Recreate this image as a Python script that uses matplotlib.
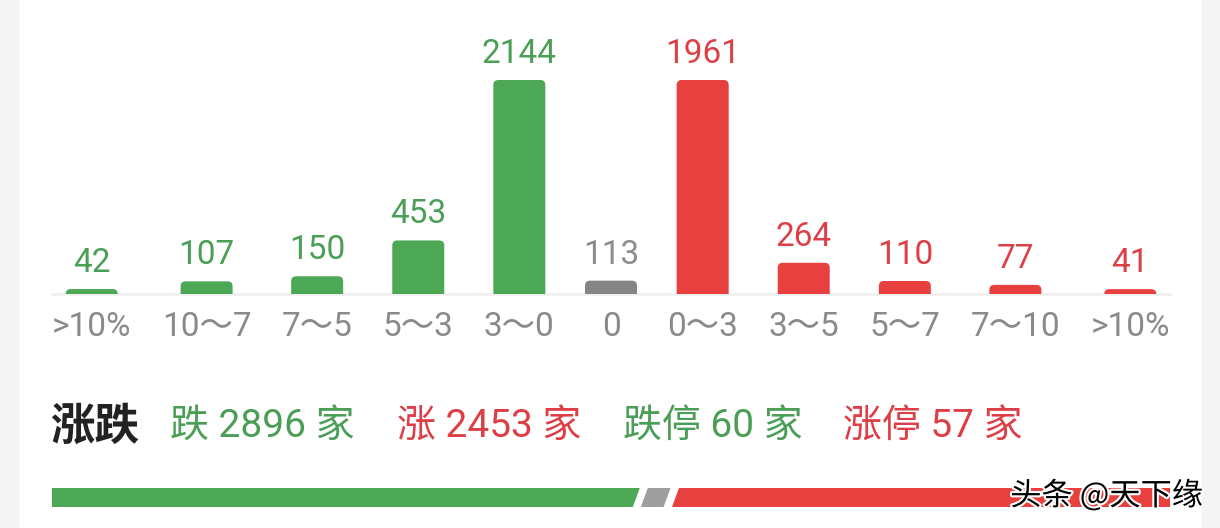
import matplotlib
matplotlib.use('Agg')
import matplotlib.pyplot as plt
from matplotlib.path import Path
from matplotlib.patches import PathPatch, Rectangle, Polygon
import matplotlib.patheffects as pe

# ---------------- data ----------------
categories = ['>10%', '10～7', '7～5', '5～3', '3～0', '0', '0～3', '3～5', '5～7', '7～10', '>10%']
counts = [42, 107, 150, 453, 2144, 113, 1961, 264, 110, 77, 41]
groups = ['down', 'down', 'down', 'down', 'down', 'flat', 'up', 'up', 'up', 'up', 'up']
summary_title = '涨跌'
summary_items = [
    ('跌', 2896, 'down'),
    ('涨', 2453, 'up'),
    ('跌停', 60, 'down'),
    ('涨停', 57, 'up'),
]
bar_down, bar_flat, bar_up = 2896, 113, 2453
watermark = '头条 @天下缘'

# ---------------- style ----------------
W, H, DPI = 1220, 528, 100
bar_colors = {'down': '#4CA854', 'flat': '#858585', 'up': '#E8403F'}
text_colors = {'down': '#4A9E56', 'flat': '#8C8C8C', 'up': '#DC4046'}
tick_color = '#8A8A8A'
NUM_FONT = ['Roboto', 'Noto Sans CJK SC', 'DejaVu Sans']
CJK_FONT = ['Noto Sans CJK SC', 'DejaVu Sans']
y_cap = 1810          # bars taller than this are drawn at full chart height


def px2pt(p):
    return p * 72.0 / DPI


fig = plt.figure(figsize=(W / DPI, H / DPI), dpi=DPI)
fig.patch.set_facecolor('white')

# side strips
fig.add_artist(Rectangle((0, 0), 18 / W, 1, transform=fig.transFigure,
                         color='#F4F4F4', zorder=-5))
fig.add_artist(Rectangle((1202 / W, 0), 18 / W, 1, transform=fig.transFigure,
                         color='#F4F4F4', zorder=-5))

# ---------------- bar chart ----------------
left_px, right_px, base_px, top_px = 52, 1170, 294, 80
span = right_px - left_px
ax = fig.add_axes([left_px / W, (H - base_px) / H, span / W, (base_px - top_px) / H])
ax.set_xlim(0, span)
ax.set_ylim(0, y_cap)
ax.axis('off')

label_fs = 24
bar_w = 52
renderer = fig.canvas.get_renderer()
widths = []
for c in categories:
    t = fig.text(0, 0, c, fontsize=label_fs, family=NUM_FONT)
    widths.append(max(t.get_window_extent(renderer).width, bar_w))
    t.remove()
gap = (span - sum(widths)) / (len(categories) - 1)
centers = []
x = 0
for w in widths:
    centers.append(x + w / 2)
    x += w + gap

heights = [min(v, y_cap) for v in counts]
bars = ax.bar(centers, heights, width=bar_w,
              color=[bar_colors[g] for g in groups], zorder=2)

px_y = y_cap / (base_px - top_px)   # data units per pixel (y)
r = 5
for rect, g in zip(bars, groups):
    rect.set_visible(False)
    x0 = rect.get_x()
    x1 = x0 + rect.get_width()
    h = rect.get_height()
    ry = min(r * px_y, h)
    rx = r
    verts = [(x0, 0), (x0, h - ry), (x0, h), (x0 + rx, h), (x1 - rx, h),
             (x1, h), (x1, h - ry), (x1, 0), (x0, 0)]
    codes = [Path.MOVETO, Path.LINETO, Path.CURVE3, Path.CURVE3, Path.LINETO,
             Path.CURVE3, Path.CURVE3, Path.LINETO, Path.CLOSEPOLY]
    ax.add_patch(PathPatch(Path(verts, codes), facecolor=bar_colors[g],
                           edgecolor='none', zorder=3))

ax.axhline(0, color='#EEEEEE', lw=px2pt(2.5), clip_on=False, zorder=1)

for c, v, h, g, lab in zip(centers, counts, heights, groups, categories):
    ax.annotate(str(v), xy=(c, h), xytext=(0, px2pt(17)), textcoords='offset points',
                ha='center', va='baseline', fontsize=label_fs,
                color=text_colors[g], family=NUM_FONT, annotation_clip=False)
    ax.annotate(lab, xy=(c, 0), xytext=(0, -px2pt(42)), textcoords='offset points',
                ha='center', va='baseline', fontsize=label_fs,
                color=tick_color, family=NUM_FONT, annotation_clip=False)

# ---------------- summary row ----------------
fig.text(50 / W, (H - 440) / H, summary_title, ha='left', va='baseline',
         fontsize=32, fontweight='bold', color='#222222', family=CJK_FONT)
item_x = [170, 397, 623, 843]
for (name, n, g), xp in zip(summary_items, item_x):
    fig.text(xp / W, (H - 438) / H, f'{name} {n} 家', ha='left', va='baseline',
             fontsize=28, color=text_colors[g], family=NUM_FONT)

# ---------------- progress bar ----------------
pb_top, pb_bot = 488, 507
ax2 = fig.add_axes([left_px / W, (H - pb_bot) / H, span / W, (pb_bot - pb_top) / H])
ax2.set_xlim(0, span)
ax2.set_ylim(0, 1)
ax2.axis('off')

seg_gap = 8
slant = 3.5
vals = [bar_down, bar_flat, bar_up]
seg_cols = ['#4CA854', '#9E9E9E', '#E8403F']
avail = span - seg_gap * (len(vals) - 1)
tot = sum(vals)
a = 0
for i, (v, col) in enumerate(zip(vals, seg_cols)):
    b = a + v / tot * avail
    ls = 0 if i == 0 else slant
    rs = 0 if i == len(vals) - 1 else slant
    poly = [(a - ls, 0), (b - rs, 0), (b + rs, 1), (a + ls, 1)]
    ax2.add_patch(Polygon(poly, closed=True, facecolor=col, edgecolor='none',
                          clip_on=False))
    a = b + seg_gap

# ---------------- watermark ----------------
fig.text(1203 / W, (H - 496) / H, watermark, ha='right', va='center',
         fontsize=22.5, color='black', family=CJK_FONT,
         path_effects=[pe.withStroke(linewidth=3, foreground='white')])

fig.savefig('out.png', dpi=DPI)
